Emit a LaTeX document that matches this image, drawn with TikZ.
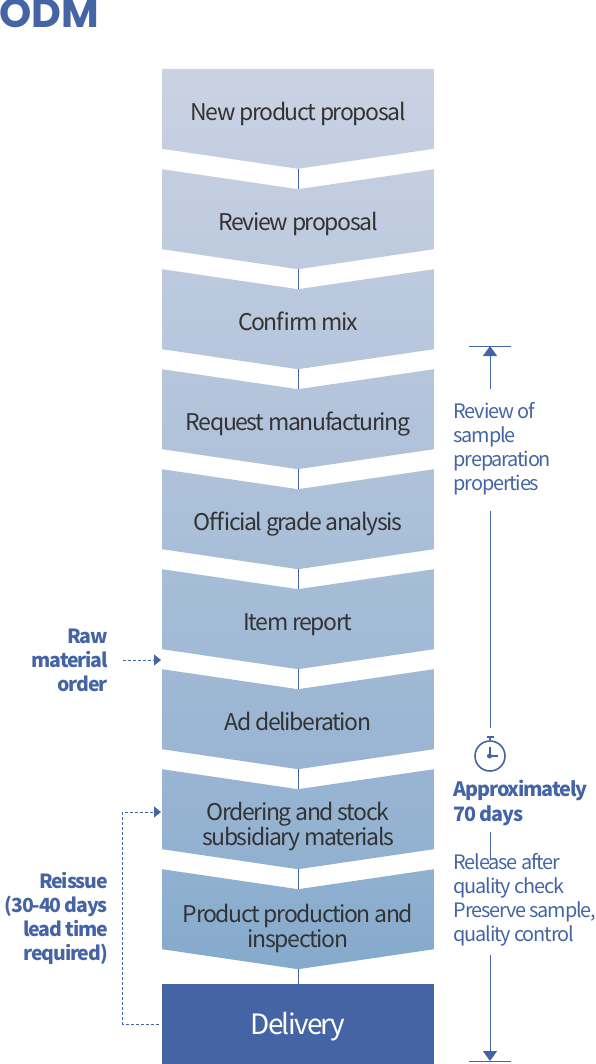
\documentclass[tikz,border=0pt]{standalone}
\usepackage{fontspec}
\setmainfont{Noto Sans CJK KR}[LetterSpace=-6]
\newfontfamily\titlefont{Poppins}
\usetikzlibrary{arrows.meta}
\definecolor{odmblue}{RGB}{69,100,165}
\definecolor{stepstart}{RGB}{203,210,227}
\definecolor{stepend}{RGB}{130,168,203}
\definecolor{steptext}{RGB}{51,51,51}

\begin{document}
\begin{tikzpicture}[
x=1pt,y=1pt,
strutted/.style={
execute at begin node=\strut,
execute at end node=\strut
},
firstbox/.style n args={2}{
strutted,
anchor=south,
minimum width=272pt,
minimum height=108pt,
inner sep=0pt,
align=center,
text=steptext,
font=\fontsize{23}{25}\selectfont,
path picture={
\shade[top color=stepend!#1!stepstart,bottom color=stepend!#2!stepstart]
(path picture bounding box.south) -- ++(136,20) -- ++(0,80) -- ++(-272,0) -- ++(0,-80) -- cycle;
}
},
stepbox/.style n args={3}{
strutted,
anchor=north,
minimum width=272pt,
minimum height=#1pt,
inner sep=0pt,
align=center,
text=steptext,
font=\fontsize{23}{25}\selectfont,
path picture={
\shade[top color=stepend!#2!stepstart,bottom color=stepend!#3!stepstart]
(path picture bounding box.north west) -- ++(136,-20) -- ++(136,20) -- ++(0,-80) -- ++(-136,-20) -- ++(-136,20) -- cycle;
}
},
sidetext/.style={
strutted,
anchor=west,
align=left,
inner sep=0pt,
text=odmblue,
font=\fontsize{19.9}{24}\selectfont
},
ordertext/.style={
strutted,
anchor=east,
align=right,
inner sep=0pt,
text=odmblue,
font=\fontsize{19.5}{24}\selectfont\bfseries
},
bluelink/.style={
draw=odmblue,
line width=1pt
},
span/.style={
bluelink,
-{Triangle[width=14pt,length=10pt]}
},
orderlink/.style={
bluelink,
dash pattern=on 3pt off 2pt,
-{Triangle[width=11pt,length=7pt]}
}
]

\useasboundingbox (0,0) rectangle (596,-1064);

\node[anchor=base west,inner sep=0pt,text=odmblue,font=\fontsize{41}{41}\selectfont\titlefont\bfseries] (title) at (-1,-28)
{ODM};

\node[firstbox={0}{10}] (proposal) at (298,-169)
{New product proposal};

\node[stepbox={112}{10}{20}] (review) at (298,-169)
{Review proposal};

\node[stepbox={112}{20}{30}] (mix) at (298,-269)
{Confirm mix};

\node[stepbox={112}{30}{40}] (request) at (298,-369)
{Request manufacturing};

\node[stepbox={112}{40}{50}] (analysis) at (298,-469)
{Official grade analysis};

\node[stepbox={112}{50}{60}] (item) at (298,-569)
{Item report};

\node[stepbox={112}{60}{70}] (deliberation) at (298,-669)
{Ad deliberation};

\node[stepbox={116}{70}{80}] (ordering) at (298,-769)
{Ordering and stock\\subsidiary materials};

\node[stepbox={121}{80}{100}] (production) at (298,-869)
{Product production and\\inspection};

\node[strutted,anchor=north,minimum width=272pt,minimum height=80pt,inner sep=0pt,fill=odmblue,text=white,font=\fontsize{28}{30}\selectfont] (delivery) at (298,-984)
{\raisebox{-4pt}[0pt][0pt]{Delivery}};

\draw[bluelink] (proposal.south) -- ([yshift=-20pt]review.north);
\draw[bluelink] ([yshift=-100pt]review.north) -- ([yshift=-20pt]mix.north);
\draw[bluelink] ([yshift=-100pt]mix.north) -- ([yshift=-20pt]request.north);
\draw[bluelink] ([yshift=-100pt]request.north) -- ([yshift=-20pt]analysis.north);
\draw[bluelink] ([yshift=-100pt]analysis.north) -- ([yshift=-20pt]item.north);
\draw[bluelink] ([yshift=-100pt]item.north) -- ([yshift=-20pt]deliberation.north);
\draw[bluelink] ([yshift=-100pt]deliberation.north) -- ([yshift=-20pt]ordering.north);
\draw[bluelink] ([yshift=-100pt]ordering.north) -- ([yshift=-20pt]production.north);
\draw[bluelink] ([yshift=-100pt]production.north) -- (delivery.north);

\node[ordertext] (raw) at (108,-663.5)
{Raw\\material\\order};

\node[ordertext] (reissue) at (108,-919.5)
{Reissue\\(30-40 days\\lead time\\required)};

\coordinate (rawin) at (161,-660);
\coordinate (reissuein) at (161,-812);

\draw[orderlink] ([xshift=15pt,yshift=3.5pt]raw.east) -- (rawin);
\draw[orderlink] ([xshift=-3pt]delivery.west) -- ++(-36,0) |- (reissuein);

\node[sidetext] (sample) at (453.5,-450)
{Review of\\sample\\preparation\\properties};

\node[draw=odmblue,line width=1.6pt,circle,minimum size=30pt,inner sep=0pt] (clock) at (490,-756)
{};

\node[sidetext,font=\fontsize{19.8}{25}\selectfont\bfseries] (approx) at (453.5,-804.5)
{Approximately\\70 days};

\node[sidetext] (release) at (453.5,-901.5)
{Release after\\quality check\\Preserve sample,\\quality control};

\coordinate (toptick) at (490,-346);
\coordinate (bottomtick) at (490,-1061);

\draw[bluelink] ([xshift=-21pt]toptick) -- ([xshift=21pt]toptick);
\draw[bluelink] ([xshift=-21pt]bottomtick) -- ([xshift=21pt]bottomtick);
\draw[span] ([yshift=13pt]sample.north -| toptick) -- (toptick);
\draw[bluelink] ([yshift=-13pt]sample.south -| toptick) -- ([yshift=12pt]clock.north);
\draw[bluelink] ([yshift=-2.5pt]approx.south -| clock) -- ([yshift=-5.5pt]release.north -| clock);
\draw[span] ([yshift=-5.5pt]release.south -| bottomtick) -- (bottomtick);

\draw[odmblue,line width=1.5pt] (clock.north) -- ++(0,3);
\draw[odmblue,line width=1.5pt] ([xshift=-3.5pt,yshift=3pt]clock.north) -- ([xshift=3.5pt,yshift=3pt]clock.north);
\draw[odmblue,line width=1.2pt] (490,-747) -- (490,-756) -- (498,-756);
\fill[odmblue] (489.5,-756) circle (2.5pt);

\end{tikzpicture}
\end{document}
